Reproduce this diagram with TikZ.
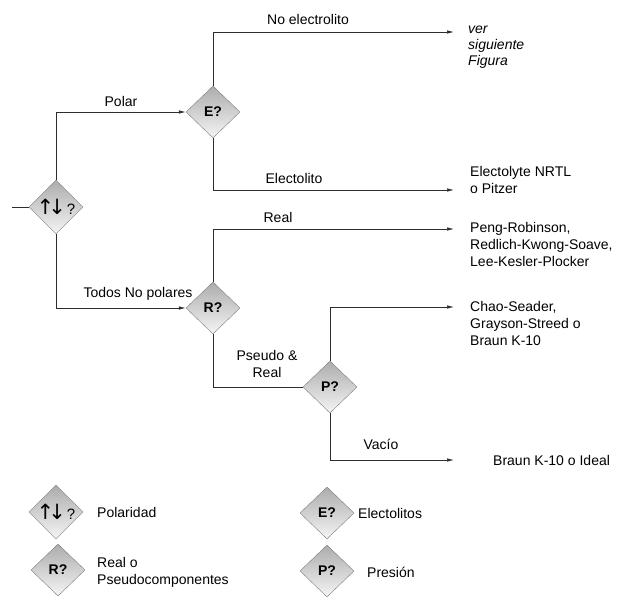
\documentclass[tikz,border=0pt]{standalone}
\usepackage{fontspec}
\setmainfont{Liberation Sans}
\newfontfamily\arrowFont{DejaVu Sans}
\usetikzlibrary{positioning,shapes.geometric,arrows.meta}
\definecolor{lineColor}{RGB}{45,45,45}
\definecolor{diamondEdge}{RGB}{125,125,125}
\tikzstyle{diagram} = [x = 1pt, y = -1pt, font=\fontsize{14}{17}\selectfont]
\tikzstyle{decisionStyle} = [diamond, draw=diamondEdge, top color=gray!65, bottom color=gray!8, minimum width=54pt, minimum height=52pt, inner sep=0pt, font=\fontsize{14}{17}\selectfont\bfseries]
\tikzstyle{flowLine} = [draw=lineColor, line width=.7pt]
\tikzstyle{flowArrow} = [flowLine, -{Latex[length=7pt, width=3.5pt]}]
\tikzstyle{branchText} = [inner sep=0pt, align=center]
\tikzstyle{resultText} = [anchor=north west, align=left, inner sep=0pt]
\tikzstyle{legendText} = [anchor=west, align=left, inner sep=0pt]
\newcommand{\decision}[3]{\node [decisionStyle] (#1) at (#2) {#3};}
\newcommand{\polarSymbol}{{\arrowFont\mdseries\fontsize{21}{21}\selectfont ↑\kern-6pt↓}\kern1pt\mdseries\fontsize{15}{15}\selectfont ?}

\begin{document}
\begin{tikzpicture}[diagram]
  \useasboundingbox (0,0) rectangle (620,596);
  \decision{polaridad}{56,207}{\polarSymbol}
  \decision{electro}{213,112}{E?}
  \decision{realPseudo}{213,308}{R?}
  \decision{presion}{330,387}{P?}

  \coordinate (inicio) at (12,207);
  \coordinate (noElecEnd) at (454,32);
  \coordinate (elecEnd) at (454,190);
  \coordinate (realEnd) at (454,229);
  \coordinate (pseudoEnd) at (454,307);
  \coordinate (vacioEnd) at (454,460);

  \node [resultText, font=\fontsize{14}{16}\selectfont\itshape] (verFigura) at (468,26) {ver\\siguiente\\Figura};
  \node [resultText] (electrolyteNrtl) at (470,166) {Electolyte NRTL\\o Pitzer};
  \node [resultText] (pengRobinson) at (470,222) {Peng-Robinson,\\Redlich-Kwong-Soave,\\Lee-Kesler-Plocker};
  \node [resultText] (chaoSeader) at (470,301) {Chao-Seader,\\Grayson-Streed o\\Braun K-10};
  \node [legendText] (braunIdeal) at (493,460) {Braun K-10 o Ideal};

  \draw [flowLine] (inicio) -- (polaridad.west);
  \draw [flowArrow] (polaridad.north) |- (electro.west);
  \draw [flowArrow] (polaridad.south) |- (realPseudo.west);
  \draw [flowArrow] (electro.north) |- (noElecEnd);
  \draw [flowArrow] (electro.south) |- (elecEnd);
  \draw [flowArrow] (realPseudo.north) |- (realEnd);
  \draw [flowLine] (realPseudo.south) |- (presion.west);
  \draw [flowArrow] (presion.north) |- (pseudoEnd);
  \draw [flowArrow] (presion.south) |- (vacioEnd);

  \node [branchText] (polarLabel) at (121,101) {Polar};
  \node [branchText] (noElecLabel) at (308,19) {No electrolito};
  \node [branchText] (elecLabel) at (294,178) {Electolito};
  \node [branchText] (realLabel) at (278,217) {Real};
  \node [branchText] (noPolarLabel) at (138,294) {Todos No polares};
  \node [branchText] (pseudoLabel) at (267,364) {Pseudo \&\\Real};
  \node [branchText] (vacioLabel) at (381,444) {Vacío};

  \decision{legPolaridad}{56,512}{\polarSymbol}
  \decision{legElectro}{327,513}{E?}
  \decision{legReal}{58,570}{R?}
  \decision{legPresion}{327,571}{P?}
  \node [legendText] (polaridadText) at (97,512) {Polaridad};
  \node [legendText] (electroText) at (358,513) {Electolitos};
  \node [legendText] (realText) at (97,572) {Real o\\Pseudocomponentes};
  \node [legendText] (presionText) at (367,572) {Presión};
\end{tikzpicture}
\end{document}
